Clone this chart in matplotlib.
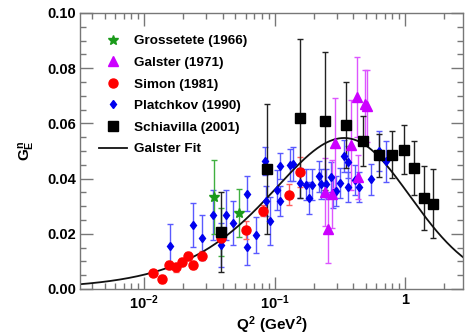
import numpy as np
import matplotlib
matplotlib.use("Agg")
import matplotlib.pyplot as plt
from matplotlib.lines import Line2D
from matplotlib.ticker import FixedLocator, FixedFormatter, MultipleLocator

plt.rcParams['font.family'] = ['Liberation Sans', 'DejaVu Sans']
plt.rcParams['font.weight'] = 'bold'
plt.rcParams['mathtext.fontset'] = 'custom'
plt.rcParams['mathtext.rm'] = 'Liberation Sans:bold'
plt.rcParams['mathtext.it'] = 'Liberation Sans:bold'
plt.rcParams['mathtext.bf'] = 'Liberation Sans:bold'

# Grossetete (1966)
gros_q2 = [0.0346, 0.0391, 0.0531]
gros_ge = [0.0333, 0.0207, 0.0275]
gros_err = [0.0133, 0.0087, 0.0087]

# Galster (1971)
gal_q2 = [0.2424, 0.257, 0.278, 0.291, 0.384, 0.425, 0.435, 0.492, 0.51]
gal_ge = [0.0353, 0.0217, 0.0345, 0.0529, 0.0522, 0.0695, 0.0405, 0.0671, 0.0662]
gal_err = [0.0123, 0.0124, 0.0123, 0.0164, 0.0164, 0.0145, 0.008, 0.0124, 0.013]

# Simon (1981)
sim_q2 = [0.01162, 0.01376, 0.01557, 0.01762, 0.0196, 0.02154, 0.02353, 0.0276,
          0.0389, 0.0606, 0.0813, 0.1288, 0.1557]
sim_ge = [0.0058, 0.0035, 0.0087, 0.0078, 0.0099, 0.012, 0.0087, 0.012,
          0.0185, 0.0215, 0.0284, 0.0342, 0.0423]
sim_err = [0.0012, 0.0015, 0.0015, 0.0015, 0.0015, 0.0015, 0.0016, 0.0016,
           0.0015, 0.0033, 0.002, 0.0038, 0.0055]

# Platchkov (1990)
pla_q2 = [0.01577, 0.0239, 0.02794, 0.03346, 0.0391, 0.04251, 0.0477, 0.0614, 0.0614,
          0.0721, 0.0838, 0.0853, 0.0928, 0.1045, 0.1093, 0.1106, 0.1304, 0.1395,
          0.1557, 0.1757, 0.1836, 0.1926, 0.22, 0.2259, 0.2499, 0.2697, 0.2818,
          0.2945, 0.3162, 0.3406, 0.3663, 0.3655, 0.4124, 0.4467, 0.5524, 0.6342, 0.7181]
pla_ge = [0.01545, 0.0232, 0.01865, 0.0269, 0.016, 0.0269, 0.0239, 0.0345, 0.01516,
          0.0196, 0.0464, 0.032, 0.0245, 0.0358, 0.0446, 0.0318, 0.0451, 0.0453,
          0.0384, 0.0378, 0.0328, 0.0378, 0.0408, 0.038, 0.038, 0.0406, 0.0347,
          0.0354, 0.0384, 0.0482, 0.0459, 0.0369, 0.0394, 0.037, 0.0397, 0.0499, 0.0462]
pla_err = [0.008, 0.008, 0.008, 0.009, 0.008, 0.009, 0.008, 0.0064, 0.0064,
           0.0064, 0.0051, 0.0055, 0.0087, 0.0073, 0.0047, 0.0055, 0.0058, 0.0062,
           0.0055, 0.0055, 0.0058, 0.0055, 0.0055, 0.0055, 0.0055, 0.0055, 0.0055,
           0.0055, 0.0055, 0.0058, 0.0058, 0.0055, 0.0055, 0.0055, 0.0055, 0.0073, 0.0073]

# Schiavilla (2001)
sch_q2 = [0.0389, 0.0879, 0.1566, 0.2438, 0.3516, 0.4775, 0.628, 0.794, 0.982, 1.18, 1.407, 1.651]
sch_ge = [0.0208, 0.0435, 0.0618, 0.0607, 0.0595, 0.0536, 0.0484, 0.0487, 0.0505, 0.0439, 0.033, 0.0308]
sch_err = [0.0145, 0.0236, 0.0287, 0.025, 0.0155, 0.0091, 0.0079, 0.0085, 0.0088, 0.0098, 0.0115, 0.0125]

# Galster parametrization
mu_n = -1.913
m_n = 0.9396
galster_b = 5.6
dipole_l2 = 0.71


def galster(q2):
    tau = q2 / (4 * m_n ** 2)
    gd = 1.0 / (1 + q2 / dipole_l2) ** 2
    return -mu_n * tau / (1 + galster_b * tau) * gd


fig = plt.figure(figsize=(4.66, 3.36), dpi=100)
ax = fig.add_axes([80 / 466, 1 - 289 / 336, 383 / 466, 276 / 336])

# (name, q2, ge, err, marker, color, errcolor, size)
sets = [
    ('Platchkov (1990)', pla_q2, pla_ge, pla_err, 'd', '#0000ee', '#5a5aff', 4.5),
    ('Galster (1971)', gal_q2, gal_ge, gal_err, '^', '#cc00ff', '#dd55ff', 7),
    ('Simon (1981)', sim_q2, sim_ge, sim_err, 'o', '#ff0000', '#ff6060', 6.5),
    ('Grossetete (1966)', gros_q2, gros_ge, gros_err, '*', '#1a9a1a', '#40b040', 7.5),
    ('Schiavilla (2001)', sch_q2, sch_ge, sch_err, 's', 'black', '#222222', 6.5),
]
handles = {}
for name, x, y, e, mk, col, ecol, ms in sets:
    ax.errorbar(x, y, yerr=e, fmt=mk, color=col, ms=ms, ecolor=ecol,
                ls='none', capsize=2.5, elinewidth=1, capthick=1)
    handles[name] = Line2D([], [], ls='none', marker=mk, color=col, ms=ms)

q2_fit = np.logspace(np.log10(0.003), np.log10(3.0), 400)
h_fit, = ax.plot(q2_fit, galster(q2_fit), color='#111111', lw=1.3)

ax.set_xscale('log')
ax.set_xlim(0.00323, 2.78)
ax.set_ylim(0.0, 0.10)

ax.xaxis.set_major_locator(FixedLocator([0.01, 0.1, 1.0]))
ax.xaxis.set_major_formatter(FixedFormatter([r'$10^{-2}$', r'$10^{-1}$', '1']))
minors = [m * 10.0 ** e for e in (-3, -2, -1, 0) for m in range(2, 10)]
ax.xaxis.set_minor_locator(FixedLocator(minors))
ax.xaxis.set_minor_formatter(FixedFormatter([''] * len(minors)))
ax.yaxis.set_major_locator(MultipleLocator(0.02))
ax.yaxis.set_minor_locator(MultipleLocator(0.005))
ax.yaxis.set_major_formatter(plt.FuncFormatter(lambda v, p: f'{v:.2f}'))

ax.tick_params(which='both', direction='in', top=True, right=True, color='#777777',
               labelsize=10.5, pad=3)
ax.tick_params(which='major', length=9, width=1)
ax.tick_params(which='minor', length=4.5, width=1)
for s in ax.spines.values():
    s.set_color('#777777')
    s.set_linewidth(1)

ax.set_xlabel(r'$Q^2$ (GeV$^2$)', fontsize=11, fontweight='bold', labelpad=2)
ax.set_ylabel(r'$G_E^n$', fontsize=11, fontweight='bold', labelpad=7)

order = ['Grossetete (1966)', 'Galster (1971)', 'Simon (1981)', 'Platchkov (1990)',
         'Schiavilla (2001)']
ax.legend([handles[n] for n in order] + [h_fit], order + ['Galster Fit'],
          loc='upper left', bbox_to_anchor=(99 / 466, 1 - 35 / 336),
          bbox_transform=fig.transFigure, frameon=False, fontsize=9.7,
          borderpad=0, borderaxespad=0, labelspacing=0.68, handlelength=2.1,
          handletextpad=0.5)

fig.savefig('out.png', dpi=100)
